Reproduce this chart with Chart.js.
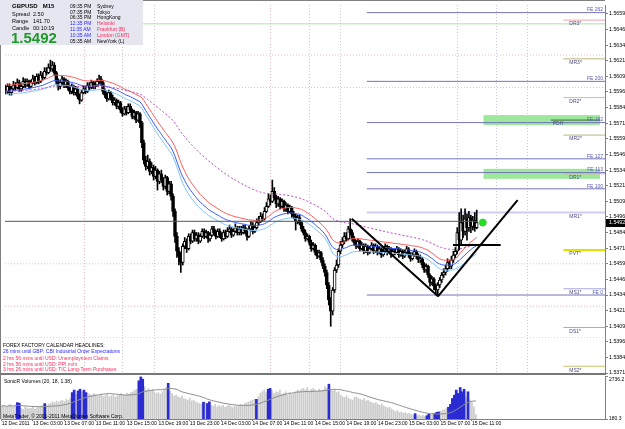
<!DOCTYPE html>
<html>
<head>
<meta charset="utf-8">
<title>GBPUSD M15</title>
<script src="https://cdn.jsdelivr.net/npm/chart.js@4.4.1/dist/chart.umd.min.js"></script>
<style>
  body { margin:0; background:#fff; font-family: Arial, "Liberation Sans", sans-serif; }
  #wrap { position:relative; width:625px; height:429px; overflow:hidden; background:#fff; }
  canvas { position:absolute; left:0; }
  #main { top:0; }
  #vol { top:374px; }
  .t { position:absolute; white-space:nowrap; line-height:1; }
  #info { position:absolute; left:0; top:0; width:143px; height:45px; background:#e6e6f0; }
  #news { position:absolute; left:3px; top:340px; width:300px; height:33px; overflow:hidden; }
  .blue { color:#2a2aff; }
  .red { color:#ff2a5a; }
</style>
</head>
<body>
<div id="wrap">
  <canvas id="main" width="625" height="381"></canvas>
  <canvas id="vol" width="625" height="55"></canvas>

  <div id="info">
    <div class="t" style="left:12px;top:3px;font-size:6px;font-weight:bold">GBPUSD&nbsp;&nbsp;&nbsp;M15</div>
    <div class="t" style="left:12px;top:12px;font-size:5.5px">Spread</div>
    <div class="t" style="left:33px;top:12px;font-size:5.5px">2.50</div>
    <div class="t" style="left:12px;top:19px;font-size:5.5px">Range</div>
    <div class="t" style="left:33px;top:19px;font-size:5.5px">141.70</div>
    <div class="t" style="left:12px;top:25.5px;font-size:5.5px">Candle</div>
    <div class="t" style="left:33px;top:25.5px;font-size:5.5px">00:10:19</div>
    <div class="t" style="left:11px;top:30px;font-size:15px;font-weight:bold;color:#1f9a2a">1.5492</div>

    <div class="t" style="left:70px;top:3.5px;font-size:5px">09:35 PM</div>
    <div class="t" style="left:97px;top:3.5px;font-size:5px">Sydney</div>
    <div class="t" style="left:70px;top:9.5px;font-size:5px">07:35 PM</div>
    <div class="t" style="left:97px;top:9.5px;font-size:5px">Tokyo</div>
    <div class="t" style="left:70px;top:15px;font-size:5px">06:35 PM</div>
    <div class="t" style="left:97px;top:15px;font-size:5px">HongKong</div>
    <div class="t blue" style="left:70px;top:20.5px;font-size:5px">12:35 PM</div>
    <div class="t red" style="left:97px;top:20.5px;font-size:5px">Helsinki</div>
    <div class="t blue" style="left:70px;top:26.5px;font-size:5px">11:35 AM</div>
    <div class="t red" style="left:97px;top:26.5px;font-size:5px">Frankfurt (B)</div>
    <div class="t blue" style="left:70px;top:32.5px;font-size:5px">10:35 AM</div>
    <div class="t red" style="left:97px;top:32.5px;font-size:5px">London (GMT)</div>
    <div class="t" style="left:70px;top:38.5px;font-size:5px">05:35 AM</div>
    <div class="t" style="left:97px;top:38.5px;font-size:5px">NewYork (L)</div>
  </div>

  <div id="news">
    <div class="t" style="left:0;top:2.5px;font-size:5px">FOREX FACTORY CALENDAR HEADLINES:</div>
    <div class="t blue" style="left:0;top:9px;font-size:5px">26 mins until GBP: CBI Industrial Order Expectations</div>
    <div class="t red" style="left:0;top:15.8px;font-size:5px">2 hrs 56 mins until USD: Unemployment Claims</div>
    <div class="t red" style="left:0;top:21.8px;font-size:5px">2 hrs 56 mins until USD: PPI m/m</div>
    <div class="t red" style="left:0;top:27px;font-size:5px">3 hrs 26 mins until USD: TIC Long-Term Purchases</div>
  </div>

  <div class="t" style="left:4px;top:378.5px;font-size:5px">SonicR Volumes (20, 18, 1.38)</div>
  <div class="t" style="left:3px;top:414px;font-size:5px">MetaTrader, &copy; 2001-2011 MetaQuotes Software Corp.</div>
</div>

<script>
// GBPUSD M15 bars, 12 Dec 23:00 .. 15 Dec 11:30 (open = previous close)
var firstOpen = 1.5599;
var closeP = [
  1.5597,1.5601,1.5596,1.5599,1.5602,1.5600,1.5604,1.5599,1.5601,1.5605,
  1.5602,1.5605,1.5601,1.5604,1.5607,1.5604,1.5609,1.5605,1.5610,1.5608,
  1.5613,1.5612,1.5616,1.5615,1.5618,1.5612,1.5605,1.5601,1.5604,1.5607,
  1.5602,1.5605,1.5600,1.5597,1.5601,1.5596,1.5599,1.5593,1.5590,1.5596,
  1.5599,1.5597,1.5602,1.5600,1.5604,1.5601,1.5602,1.5605,1.5607,1.5604,
  1.5597,1.5594,1.5591,1.5596,1.5592,1.5588,1.5590,1.5585,1.5588,1.5582,
  1.5579,1.5583,1.5580,1.5585,1.5582,1.5577,1.5580,1.5574,1.5579,1.5572,
  1.5556,1.5542,1.5537,1.5541,1.5533,1.5536,1.5529,1.5534,1.5525,1.5531,
  1.5526,1.5521,1.5528,1.5517,1.5523,1.5513,1.5501,1.5481,1.5469,1.5465,
  1.5460,1.5473,1.5477,1.5471,1.5481,1.5477,1.5484,1.5479,1.5482,1.5477,
  1.5481,1.5485,1.5481,1.5484,1.5479,1.5482,1.5487,1.5484,1.5481,1.5485,
  1.5482,1.5479,1.5484,1.5481,1.5485,1.5487,1.5482,1.5485,1.5488,1.5484,
  1.5487,1.5484,1.5488,1.5485,1.5481,1.5487,1.5490,1.5485,1.5488,1.5492,
  1.5493,1.5497,1.5495,1.5501,1.5505,1.5511,1.5509,1.5517,1.5512,1.5507,
  1.5511,1.5505,1.5509,1.5503,1.5506,1.5501,1.5504,1.5499,1.5497,1.5493,
  1.5496,1.5492,1.5487,1.5484,1.5479,1.5481,1.5476,1.5471,1.5474,1.5468,
  1.5465,1.5468,1.5462,1.5457,1.5452,1.5442,1.5430,1.5421,1.5438,1.5454,
  1.5458,1.5469,1.5474,1.5477,1.5481,1.5479,1.5487,1.5484,1.5479,1.5476,
  1.5473,1.5477,1.5471,1.5474,1.5469,1.5473,1.5468,1.5471,1.5474,1.5469,
  1.5473,1.5468,1.5471,1.5466,1.5469,1.5473,1.5468,1.5471,1.5466,1.5469,
  1.5468,1.5471,1.5466,1.5469,1.5465,1.5468,1.5471,1.5466,1.5463,1.5466,
  1.5469,1.5465,1.5462,1.5463,1.5458,1.5454,1.5457,1.5450,1.5444,1.5447,
  1.5441,1.5438,1.5442,1.5446,1.5450,1.5452,1.5455,1.5460,1.5457,1.5462,
  1.5466,1.5469,1.5484,1.5478,1.5492,1.5485,1.5495,1.5488,1.5496,1.5489,
  1.5494,1.5488,1.5492
];
var highP = [
  1.5602,1.5603,1.5603,1.5601,1.5605,1.5604,1.5607,1.5606,1.5603,1.5608,
  1.5607,1.5607,1.5606,1.5606,1.5610,1.5609,1.5611,1.5611,1.5613,1.5612,
  1.5616,1.5616,1.5619,1.5622,1.5621,1.5620,1.5613,1.5607,1.5606,1.5609,
  1.5608,1.5607,1.5606,1.5602,1.5603,1.5602,1.5601,1.5600,1.5595,1.5598,
  1.5601,1.5601,1.5604,1.5604,1.5606,1.5605,1.5605,1.5607,1.5610,1.5609,
  1.5605,1.5599,1.5596,1.5598,1.5597,1.5594,1.5592,1.5591,1.5590,1.5589,
  1.5584,1.5585,1.5585,1.5587,1.5587,1.5583,1.5582,1.5581,1.5581,1.5580,
  1.5573,1.5558,1.5545,1.5546,1.5543,1.5540,1.5538,1.5537,1.5535,1.5533,
  1.5534,1.5528,1.5530,1.5529,1.5525,1.5525,1.5515,1.5503,1.5484,1.5472,
  1.5468,1.5475,1.5480,1.5479,1.5483,1.5483,1.5486,1.5486,1.5484,1.5484,
  1.5483,1.5487,1.5487,1.5486,1.5485,1.5484,1.5489,1.5489,1.5486,1.5487,
  1.5487,1.5484,1.5486,1.5486,1.5488,1.5490,1.5488,1.5487,1.5491,1.5489,
  1.5489,1.5489,1.5490,1.5490,1.5487,1.5489,1.5493,1.5492,1.5490,1.5495,
  1.5497,1.5500,1.5499,1.5504,1.5508,1.5515,1.5514,1.5526,1.5520,1.5514,
  1.5513,1.5512,1.5511,1.5510,1.5508,1.5507,1.5506,1.5505,1.5501,1.5499,
  1.5498,1.5498,1.5493,1.5489,1.5486,1.5483,1.5482,1.5478,1.5476,1.5475,
  1.5470,1.5470,1.5469,1.5464,1.5459,1.5454,1.5444,1.5432,1.5440,1.5456,
  1.5462,1.5471,1.5477,1.5480,1.5484,1.5484,1.5489,1.5495,1.5486,1.5481,
  1.5478,1.5479,1.5478,1.5476,1.5475,1.5475,1.5474,1.5473,1.5476,1.5475,
  1.5475,1.5474,1.5473,1.5472,1.5471,1.5475,1.5474,1.5473,1.5472,1.5471,
  1.5471,1.5473,1.5472,1.5471,1.5470,1.5470,1.5473,1.5472,1.5468,1.5468,
  1.5471,1.5470,1.5467,1.5466,1.5464,1.5460,1.5459,1.5458,1.5451,1.5449,
  1.5448,1.5443,1.5444,1.5448,1.5452,1.5455,1.5458,1.5463,1.5462,1.5465,
  1.5469,1.5472,1.5488,1.5500,1.5503,1.5498,1.5503,1.5499,1.5501,1.5498,
  1.5497,1.5500,1.5502
];
var lowP = [
  1.5595,1.5595,1.5594,1.5594,1.5598,1.5598,1.5599,1.5597,1.5597,1.5600,
  1.5600,1.5601,1.5599,1.5600,1.5603,1.5602,1.5603,1.5603,1.5604,1.5606,
  1.5607,1.5610,1.5611,1.5613,1.5613,1.5610,1.5603,1.5598,1.5599,1.5602,
  1.5600,1.5600,1.5598,1.5595,1.5595,1.5594,1.5594,1.5591,1.5587,1.5589,
  1.5595,1.5595,1.5596,1.5598,1.5599,1.5599,1.5599,1.5601,1.5603,1.5602,
  1.5595,1.5592,1.5589,1.5590,1.5590,1.5586,1.5586,1.5583,1.5583,1.5580,
  1.5577,1.5578,1.5578,1.5579,1.5580,1.5575,1.5575,1.5572,1.5573,1.5568,
  1.5552,1.5539,1.5534,1.5535,1.5530,1.5531,1.5526,1.5527,1.5518,1.5523,
  1.5524,1.5518,1.5519,1.5514,1.5515,1.5510,1.5497,1.5476,1.5464,1.5458,
  1.5452,1.5458,1.5471,1.5468,1.5470,1.5475,1.5476,1.5477,1.5477,1.5475,
  1.5476,1.5480,1.5479,1.5480,1.5476,1.5477,1.5481,1.5482,1.5479,1.5480,
  1.5480,1.5477,1.5478,1.5479,1.5480,1.5484,1.5480,1.5481,1.5484,1.5482,
  1.5482,1.5482,1.5483,1.5483,1.5478,1.5480,1.5486,1.5483,1.5484,1.5487,
  1.5490,1.5492,1.5493,1.5494,1.5500,1.5504,1.5506,1.5508,1.5510,1.5504,
  1.5505,1.5503,1.5504,1.5501,1.5501,1.5499,1.5500,1.5496,1.5495,1.5486,
  1.5491,1.5490,1.5485,1.5482,1.5477,1.5478,1.5474,1.5469,1.5470,1.5466,
  1.5463,1.5464,1.5460,1.5455,1.5449,1.5439,1.5426,1.5409,1.5418,1.5436,
  1.5452,1.5456,1.5467,1.5472,1.5475,1.5477,1.5478,1.5482,1.5477,1.5474,
  1.5471,1.5472,1.5469,1.5470,1.5467,1.5468,1.5466,1.5467,1.5470,1.5467,
  1.5468,1.5466,1.5467,1.5464,1.5465,1.5468,1.5466,1.5467,1.5464,1.5465,
  1.5466,1.5467,1.5464,1.5465,1.5463,1.5464,1.5467,1.5464,1.5461,1.5462,
  1.5465,1.5463,1.5460,1.5460,1.5456,1.5452,1.5452,1.5448,1.5441,1.5442,
  1.5438,1.5435,1.5433,1.5440,1.5444,1.5448,1.5450,1.5453,1.5455,1.5455,
  1.5460,1.5464,1.5467,1.5470,1.5474,1.5480,1.5482,1.5478,1.5485,1.5484,
  1.5486,1.5485,1.5487
];
var volumes = [
  950,1000,880,920,1050,980,900,1020,1150,1120,
  820,760,900,850,780,820,880,760,840,900,
  950,980,1100,1000,1050,1120,1200,1150,1250,1180,
  1250,1300,1220,1350,1280,1400,1750,1900,1650,1850,
  1950,1800,1900,1750,1700,1650,1580,1700,1620,1550,
  1600,1680,1520,1580,1650,1500,1560,1620,1480,1550,
  1600,1700,1650,1580,1720,1660,1750,1800,1900,1950,
  2450,2680,2550,2100,1900,2000,1850,1950,1800,1700,
  1750,1650,1800,1900,2050,2300,1850,1700,1550,1600,
  1500,1450,1550,1400,1350,1300,1420,1250,1300,1200,
  1150,1100,1050,1180,1150,1100,1200,1000,950,1050,
  900,980,920,1000,880,940,1000,920,860,950,
  900,980,1050,1000,1100,1150,1200,1250,1300,1350,
  1350,1500,1700,1800,1900,1750,1950,2000,1850,1700,
  1800,1750,1900,1650,1700,1800,1600,1750,1650,1700,
  1800,1900,1850,1950,2000,1900,2050,1850,1950,2000,
  1900,1800,1950,1850,1900,2100,2000,2250,1950,1850,
  1900,1750,1800,1600,1500,1450,1550,1400,1350,1300,
  1450,1500,1400,1350,1300,1400,1250,1300,1200,1150,
  1100,1150,1050,1000,1080,950,900,850,880,780,
  700,620,680,560,600,520,560,480,520,450,
  420,500,380,420,360,400,340,380,480,450,
  520,500,580,600,650,700,740,800,880,1050,
  1400,1600,1900,1700,2050,1800,1950,1500,1800,1300,
  1150,900,450
];
// bars the volume indicator paints blue
var climaxBars = [8,9,22,36,37,39,40,42,43,70,71,72,85,103,105,106,130,136,137,167,
  211,217,218,221,222,223,228,229,230,231,232,233,234,235,236,238];

var tickBars = [0,16,32,48,64,80,96,112,128,144,160,176,192,208,224,240];
var timeLabels = ['12 Dec 2011','13 Dec 03:00','13 Dec 07:00','13 Dec 11:00','13 Dec 15:00',
  '13 Dec 19:00','13 Dec 23:00','14 Dec 03:00','14 Dec 07:00','14 Dec 11:00','14 Dec 15:00',
  '14 Dec 19:00','14 Dec 23:00','15 Dec 03:00','15 Dec 07:00','15 Dec 11:00'];
var priceTicks = [1.56590,1.56465,1.56340,1.56215,1.56090,1.55965,1.55840,1.55715,1.55590,
  1.55465,1.55340,1.55215,1.55090,1.54965,1.54840,1.54715,1.54590,1.54465,1.54340,
  1.54215,1.54090,1.53965,1.53840,1.53716];
var volumeTicks = [180.3, 2736.2];

var feNames = ['FE 262','FE 200','FE 162','FE 127','FE 113','FE 100','FE 0'];
var fePrices = [1.5660,1.5605,1.5572,1.5543,1.5532,1.5519,1.5434];
var pivotNames = ['DR3*','MR3*','DR2*','MR2*','DR1*','MR1*','PVT*','MS1*','DS1*','MS2*'];
var pivotPrices = [1.5654,1.5623,1.5592,1.5562,1.5531,1.5500,1.5470,1.5439,1.5408,1.5377];
var zoneTops = [1.5578,1.5535];
var zoneBottoms = [1.5570,1.5527];
var pdhPrice = 1.5574;
var dayLevels = [1.5651,1.5626,1.5600,1.5459,1.5425,1.5400];
var bidLine = 1.5493;
var currentPrice = 1.5492;
var sessionBars = [40,60,76,136,156,172,232,252,268];
// drawn objects: [bar, price] pairs
var trendDown = [[177.8,1.5495],[222.1,1.5433]];
var trendUp = [[222.1,1.5433],[263,1.5510]];
var neckLine = [[229.8,1.5474],[254.3,1.5474]];
var signalDot = [245.1,1.5492];

var xMin = -0.33, xMax = 307.9;
var feStartBar = 185.5, pivotStartBar = 286.5, zoneStartBar = 245.5, pdhStartBar = 280;

Chart.defaults.font.family = 'Arial, "Liberation Sans", sans-serif';

var bars = closeP.map(function(c, i) { return i; });
var openP = closeP.map(function(c, i) { return i === 0 ? firstOpen : closeP[i - 1]; });

function ema(src, n) {
  var k = 2 / (n + 1), prev = src[0];
  return src.map(function(v) { prev = prev + k * (v - prev); return prev; });
}
function sma(src, n) {
  return src.map(function(v, i) {
    var s = src.slice(Math.max(0, i - n + 1), i + 1);
    return s.reduce(function(a, b) { return a + b; }, 0) / s.length;
  });
}
function pts(arr) { return arr.map(function(v, i) { return {x: i, y: v}; }); }
function seg(a, b) { return [{x: a[0], y: a[1]}, {x: b[0], y: b[1]}]; }
function lineDs(data, color, width, dash, order) {
  return {type: 'line', data: data, borderColor: color, borderWidth: width, borderDash: dash || [],
    pointRadius: 0, fill: false, tension: 0, order: order};
}
function pivotColor(name) {
  if (name.indexOf('DR') === 0) return '#f2a6ae';
  if (name === 'PVT*') return '#e2e200';
  if (name === 'MR1*') return '#d2cbee';
  if (name.indexOf('MR') === 0) return '#bdb67c';
  if (name === 'MS2*') return '#c8c468';
  return '#a8a8dc';
}

var datasets = [];

// day levels (faint)
var dayStyles = [['#a6e8a6', []], ['#f2b8c4', [1, 2]], ['#c4c4d6', [1, 2]], ['#a6e8a6', [1, 2]], ['#f2b8c4', [1, 2]], ['#dcdcec', [1, 2]]];
dayLevels.forEach(function(p, k) {
  datasets.push(lineDs(seg([xMin, p], [xMax, p]), dayStyles[k][0], 1, dayStyles[k][1], 9));
});
fePrices.forEach(function(p) {
  datasets.push(lineDs(seg([feStartBar, p], [xMax, p]), '#7474bc', 1, [], 8));
});
pivotPrices.forEach(function(p, k) {
  var name = pivotNames[k];
  var start = name === 'MR1*' ? feStartBar : pivotStartBar;
  var w = (name === 'PVT*' || name === 'MR1*') ? 2 : 1;
  datasets.push(lineDs(seg([start, p], [xMax, p]), pivotColor(name), w, [], 8));
});
datasets.push(lineDs(seg([pdhStartBar, pdhPrice], [xMax - 2.5, pdhPrice]), '#3c6a3c', 1, [], 8));

// candles
datasets.push({type: 'bar', data: bars.map(function(i) { return {x: i, y: [lowP[i], highP[i]]}; }),
  backgroundColor: '#000', barThickness: 1, grouped: false, order: 6});
datasets.push({type: 'bar', data: bars.map(function(i) { return {x: i, y: [openP[i], closeP[i]]}; }),
  backgroundColor: bars.map(function(i) { return closeP[i] > openP[i] ? '#fff' : '#000'; }),
  borderColor: '#000', borderWidth: 1, borderSkipped: false, barThickness: 3, minBarLength: 1,
  grouped: false, order: 5});

// moving averages
datasets.push(lineDs(pts(ema(closeP, 89)), '#bb44c4', 1, [2, 2], 3));
datasets.push(lineDs(pts(ema(highP, 34)), '#ff5a5a', 1, [], 3));
datasets.push(lineDs(pts(ema(closeP, 34)), '#3a5aff', 1, [], 3));
datasets.push(lineDs(pts(ema(lowP, 34)), '#7cc4ff', 1, [], 3));

// drawn objects
datasets.push(lineDs(seg([xMin, bidLine], [242.5, bidLine]), '#555', 1, [], 2));
datasets.push(lineDs(seg(trendDown[0], trendDown[1]), '#000', 2, [], 1));
datasets.push(lineDs(seg(trendUp[0], trendUp[1]), '#000', 2, [], 1));
datasets.push(lineDs(seg(neckLine[0], neckLine[1]), '#000', 2, [], 1));
datasets.push({type: 'line', data: [{x: signalDot[0], y: signalDot[1]}], showLine: false,
  pointRadius: 3.5, pointBackgroundColor: '#22dd22', pointBorderColor: '#22dd22', order: 0});

var mainDecor = {
  id: 'mainDecor',
  beforeDatasetsDraw: function(chart) {
    var ctx = chart.ctx, a = chart.chartArea, x = chart.scales.x, y = chart.scales.y;
    ctx.save();
    ctx.lineWidth = 1;
    ctx.setLineDash([1, 2]);
    sessionBars.forEach(function(b, k) {
      var px = Math.round(x.getPixelForValue(b)) + 0.5;
      ctx.strokeStyle = k % 3 === 0 ? '#eab8c8' : '#c6c6dc';
      ctx.beginPath(); ctx.moveTo(px, a.top); ctx.lineTo(px, a.bottom); ctx.stroke();
    });
    ctx.setLineDash([]);
    ctx.fillStyle = '#9de89d';
    zoneTops.forEach(function(t, k) {
      var x0 = x.getPixelForValue(zoneStartBar);
      var y0 = y.getPixelForValue(t), y1 = y.getPixelForValue(zoneBottoms[k]);
      ctx.fillRect(x0, y0, a.right - 5 - x0, y1 - y0);
    });
    ctx.restore();
  },
  afterDatasetsDraw: function(chart) {
    var ctx = chart.ctx, a = chart.chartArea, x = chart.scales.x, y = chart.scales.y;
    ctx.save();
    ctx.font = '5px Arial, "Liberation Sans", sans-serif';
    ctx.textBaseline = 'middle';
    ctx.fillStyle = '#4a4a82';
    ctx.textAlign = 'left';
    pivotNames.forEach(function(n, k) {
      ctx.fillText(n, x.getPixelForValue(pivotStartBar) + 6, y.getPixelForValue(pivotPrices[k]) + 4);
    });
    ctx.fillText('PDH', x.getPixelForValue(pdhStartBar) + 2, y.getPixelForValue(pdhPrice) + 4);
    ctx.fillStyle = '#5a5ab0';
    ctx.textAlign = 'right';
    feNames.forEach(function(n, k) {
      ctx.fillText(n, a.right - 2, y.getPixelForValue(fePrices[k]) - 2.5);
    });
    // frame
    ctx.fillStyle = '#808080';
    ctx.fillRect(0, 0, a.right, 1);
    ctx.fillRect(0, 0, 1, a.bottom);
    ctx.fillStyle = '#777';
    ctx.fillRect(0, a.bottom, a.right + 1, 2);
    // current price tag
    var py = y.getPixelForValue(currentPrice);
    ctx.fillStyle = '#000';
    ctx.fillRect(a.right + 1, Math.round(py) - 4, 24, 8);
    ctx.fillStyle = '#fff';
    ctx.textAlign = 'left';
    ctx.font = '5.3px Arial, "Liberation Sans", sans-serif';
    ctx.fillText(currentPrice.toFixed(5), a.right + 4, Math.round(py));
    ctx.restore();
  }
};

new Chart(document.getElementById('main'), {
  type: 'bar',
  data: {datasets: datasets},
  options: {
    responsive: false, animation: false, events: [],
    layout: {padding: {top: 1, left: 1, right: 0, bottom: 8}},
    plugins: {legend: {display: false}, tooltip: {enabled: false}},
    scales: {
      x: {type: 'linear', min: xMin, max: xMax, offset: false, display: false, grid: {offset: false}},
      y: {
        position: 'right', min: 1.53716, max: 1.56661, beginAtZero: false,
        afterFit: function(s) { s.width = 20; },
        afterBuildTicks: function(s) { s.ticks = priceTicks.map(function(v) { return {value: v}; }); },
        ticks: {autoSkip: false, padding: 1, color: '#000', font: {size: 5.3},
          callback: function(v) { return v.toFixed(5); }},
        grid: {drawOnChartArea: false, tickLength: 3, color: '#808080'},
        border: {color: '#808080'}
      }
    }
  },
  plugins: [mainDecor]
});

// volume pane
var volMa = sma(volumes, 20);
var greyBars = bars.filter(function(i) { return climaxBars.indexOf(i) < 0; });

var volDecor = {
  id: 'volDecor',
  afterDatasetsDraw: function(chart) {
    var ctx = chart.ctx, a = chart.chartArea, y = chart.scales.y;
    ctx.save();
    ctx.fillStyle = '#808080';
    ctx.fillRect(0, a.top - 2, 1, a.bottom - a.top + 2);
    ctx.fillStyle = '#000';
    ctx.font = '5px Arial, "Liberation Sans", sans-serif';
    ctx.textBaseline = 'middle';
    ctx.textAlign = 'left';
    ctx.fillText(volumeTicks[1].toFixed(1), a.right + 4, y.getPixelForValue(volumeTicks[1]) + 3.5);
    ctx.fillText(volumeTicks[0].toFixed(1), a.right + 4, y.getPixelForValue(volumeTicks[0]) - 0.5);
    ctx.restore();
  }
};

new Chart(document.getElementById('vol'), {
  type: 'bar',
  data: {datasets: [
    {type: 'bar', data: greyBars.map(function(i) { return {x: i, y: volumes[i]}; }),
      backgroundColor: '#cbcbcb', barThickness: 1, grouped: false, order: 3},
    {type: 'bar', data: climaxBars.map(function(i) { return {x: i, y: volumes[i]}; }),
      backgroundColor: '#2b2bd2', borderWidth: 0, barThickness: 2, grouped: false, order: 2},
    lineDs(pts(volMa), '#8c8c8c', 1, [], 1)
  ]},
  options: {
    responsive: false, animation: false, events: [],
    layout: {padding: {top: 2, left: 1, right: 0, bottom: 0}},
    plugins: {legend: {display: false}, tooltip: {enabled: false}},
    scales: {
      x: {
        type: 'linear', min: xMin, max: xMax, offset: false,
        afterFit: function(s) { s.height = 10; },
        afterBuildTicks: function(s) { s.ticks = tickBars.map(function(v) { return {value: v}; }); },
        ticks: {autoSkip: false, maxRotation: 0, align: 'start', padding: 0, color: '#000', font: {size: 5},
          callback: function(v) { return timeLabels[tickBars.indexOf(v)]; }},
        grid: {drawOnChartArea: false, tickLength: 2, color: '#808080', offset: false},
        border: {color: '#808080'}
      },
      y: {
        position: 'right', min: volumeTicks[0], max: volumeTicks[1], beginAtZero: false,
        afterFit: function(s) { s.width = 20; },
        afterBuildTicks: function(s) { s.ticks = volumeTicks.map(function(v) { return {value: v}; }); },
        ticks: {display: false},
        grid: {drawOnChartArea: false, tickLength: 3, color: '#808080'},
        border: {color: '#808080'}
      }
    }
  },
  plugins: [volDecor]
});
</script>
</body>
</html>
